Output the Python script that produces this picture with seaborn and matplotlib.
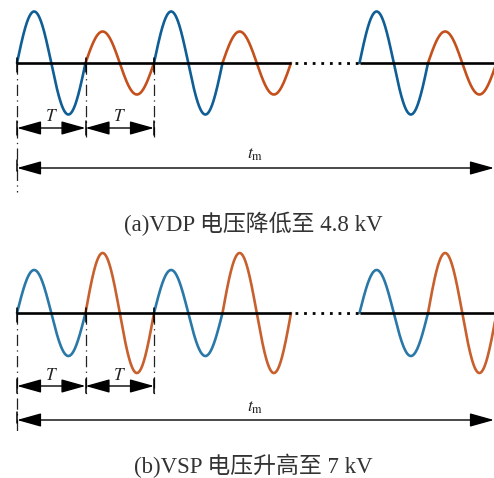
import numpy as np
import pandas as pd
import matplotlib
matplotlib.use("Agg")
import matplotlib.pyplot as plt
import seaborn as sns

sns.set_theme(style="white")
plt.rcParams['mathtext.fontset'] = 'stix'
plt.rcParams['font.family'] = ['Liberation Serif', 'Noto Sans CJK SC', 'DejaVu Sans']

# ---- data ----
# cycle index (in periods T) and amplitude of each cycle; cycle 4 is the omitted (dotted) gap
cycles = [0, 1, 2, 3, 5, 6]
amp_a = [51.5, 31.5, 51.5, 31.5, 51.5, 31.5]        # (a) VDP voltage lowered
amp_b = [43, 60, 43, 60, 43, 60]                    # (b) VSP voltage raised
kind = ['VDP', 'VSP', 'VDP', 'VSP', 'VDP', 'VSP']
captions = ['(a)VDP 电压降低至 4.8 kV', '(b)VSP 电压升高至 7 kV']
colors = [{'VDP': '#0f5e96', 'VSP': '#c4501c'},
          {'VDP': '#2a78a8', 'VSP': '#c8602e'}]

W, H = 494, 478
fig = plt.figure(figsize=(W / 100, H / 100), dpi=100)

x0_px, per_px = 17, 68.5
xl = (-x0_px / per_px, (W - x0_px) / per_px)

panels = [
    dict(amp=amp_a, pos=[0, (H - 240) / H, 1, 240 / H], ylim=(-177, 63),
         T_y=-65, T_lab=-54, tm_y=-105, tm_lab=-92, dd0=-129, dd1=-74, cap=-161),
    dict(amp=amp_b, pos=[0, 0, 1, 238 / H], ylim=(-165, 73),
         T_y=-73, T_lab=-63, tm_y=-107, tm_lab=-95, dd0=-120, dd1=-82, cap=-153),
]

for pi, p in enumerate(panels):
    ax = fig.add_axes(p['pos'])
    ax.set_xlim(*xl)
    ax.set_ylim(*p['ylim'])
    ax.axis('off')

    # waves
    for c, a, k in zip(cycles, p['amp'], kind):
        t = np.linspace(c, c + 1, 200)
        df = pd.DataFrame({'t': t, 'v': a * np.sin(2 * np.pi * (t - c))})
        sns.lineplot(data=df, x='t', y='v', color=colors[pi][k], lw=1.9,
                     ax=ax, legend=False, zorder=3)

    # baseline
    ax.plot([0, 4], [0, 0], color='black', lw=1.9, zorder=4, solid_capstyle='butt')
    ax.plot([4.06, 5], [0, 0], color='black', lw=2.0, ls=(0, (1, 2.1)), zorder=4)
    ax.plot([5, xl[1] + 0.1], [0, 0], color='black', lw=1.9, zorder=4, solid_capstyle='butt')

    # dash-dot guide lines
    dd = (0, (9, 3.5, 1, 3.5))
    ax.plot([0, 0], [0, p['dd0']], color='#222222', lw=0.9, ls=dd, zorder=2)
    for xv in (1, 2):
        ax.plot([xv, xv], [0, p['dd1']], color='#222222', lw=0.9, ls=dd, zorder=2)
    # small solid ticks
    for xv in (0, 1, 2):
        ax.plot([xv, xv], [5, -9], color='black', lw=1.1, zorder=5)
        ax.plot([xv, xv], [p['T_y'] + 7, p['T_y'] - 7], color='black', lw=1.1, zorder=5)
    ax.plot([0, 0], [p['tm_y'] + 8, p['tm_y'] - 3], color='black', lw=1.1, zorder=5)

    astyle = "<|-|>,head_length=1.5,head_width=0.42"
    for a0, a1 in ((0, 1), (1, 2)):
        ax.annotate('', xy=(a1, p['T_y']), xytext=(a0, p['T_y']),
                    arrowprops=dict(arrowstyle=astyle, color='black', lw=1.0,
                                    shrinkA=0, shrinkB=0, mutation_scale=10))
        ax.text((a0 + a1) / 2, p['T_lab'], '$T$', ha='center', va='center',
                fontsize=12.5, color='#222222')
    ax.annotate('', xy=(xl[1], p['tm_y']), xytext=(0, p['tm_y']),
                arrowprops=dict(arrowstyle=astyle, color='black', lw=1.0,
                                shrinkA=0, shrinkB=0, mutation_scale=10))
    ax.text((255 - x0_px) / per_px, p['tm_lab'], r'$t_\mathrm{m}$', ha='center',
            va='center', fontsize=12.5, color='#222222')

    ax.text((253 - x0_px) / per_px, p['cap'], captions[pi], ha='center', va='center',
            fontsize=16.5, color='#333333')

fig.savefig('out.png', dpi=100)
